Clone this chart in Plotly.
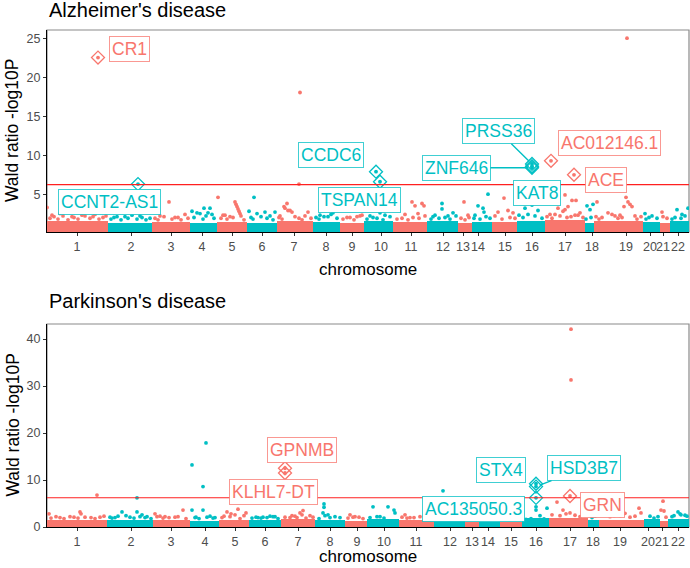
import numpy as np
import plotly.graph_objects as go

RED = "#F8766D"
TEAL = "#00BFC4"

chromosomes = [str(i) for i in range(1, 23)]

# ---------------- Alzheimer's disease ----------------
ad_bounds = [0, 61, 105, 143, 170, 200, 230, 266, 293, 317, 346, 380, 411, 425, 445, 470, 498, 538, 547, 596, 613, 623, 642]
ad_ticks = [30, 84, 124, 155, 185, 215, 247, 279, 305, 334, 364, 396, 416, 431, 458, 485, 518, 545, 579, 603, 616, 631]
ad_band = [1.5, 1.3, 1.4, 1.3, 1.4, 1.3, 1.5, 1.4, 1.3, 1.5, 1.4, 1.5, 1.3, 1.4, 1.4, 1.6, 1.7, 1.3, 1.5, 1.4, 1.3, 1.5]

ad_pos = [0, 5, 13, 25, 38, 48, 56, 70, 85, 95, 253, 252, 580,
          122, 113, 128, 138, 145, 150, 153, 157, 161, 165, 163,
          171, 188, 189, 190, 191, 192, 193, 194, 178, 183,
          207, 202, 210, 218, 223, 228,
          237, 238, 240, 241, 243, 245, 261, 233,
          273, 286, 281, 310, 315, 303, 323, 333, 338,
          365, 368, 375, 377, 358, 371, 395, 395, 406, 388, 401,
          417, 421, 441, 431, 436, 437, 428, 457, 451, 461, 466,
          478, 485, 491, 481,
          518, 529, 525, 521, 518, 511, 516, 508, 528, 533,
          540, 543, 546,
          550, 577, 579, 581, 583, 585, 561, 565, 573, 588,
          598, 605, 615, 630, 641, 635]
ad_logp = [3.3, 2.3, 2.5, 2.1, 2.2, 2.4, 2.0, 2.1, 2.3, 2.0, 18.1, 6.3, 25.1,
           4.0, 2.2, 2.0, 2.4, 2.8, 2.6, 2.5, 3.2, 2.6, 2.4, 3.2,
           4.6, 4.0, 3.7, 3.4, 3.1, 2.8, 2.5, 2.2, 2.3, 2.1,
           4.6, 2.8, 2.5, 2.7, 2.2, 2.7,
           3.4, 3.2, 3.8, 2.9, 2.9, 2.7, 2.7, 2.2,
           2.3, 2.6, 2.1, 2.1, 2.3, 2.0, 2.2, 2.6, 2.3,
           4.0, 3.5, 3.8, 3.5, 2.4, 2.5, 3.8, 3.1, 2.6, 2.3, 2.2,
           4.0, 2.3, 5.0, 3.5, 3.2, 2.7, 2.3, 4.5, 2.7, 2.9, 2.6,
           3.2, 3.6, 2.9, 2.4,
           4.9, 4.2, 4.2, 3.4, 3.0, 3.2, 2.8, 2.4, 2.3, 2.6,
           3.5, 3.0, 3.7,
           4.0, 3.4, 4.6, 4.0, 3.7, 3.4, 2.6, 2.4, 2.3, 2.2,
           2.5, 2.2, 2.7, 3.0, 3.2, 2.4]

# dense ridge of moderately significant genes along the top of the band
ad_ridge_pos = [3, 7, 11, 16, 21, 27, 31, 35, 43, 46, 52, 59, 64, 67, 74, 78, 81, 90, 93, 99, 103,
                108, 111, 117, 125, 131, 134, 141, 147, 156, 159, 167, 174, 176, 180, 186, 197,
                204, 206, 214, 220, 226, 232, 235, 248, 252, 255, 258, 264, 269, 272, 277, 284, 290,
                296, 300, 307, 313, 320, 326, 330, 336, 343, 350, 355, 361, 366, 372, 378,
                384, 386, 392, 398, 403, 409, 414, 418, 422, 427, 433, 439, 443, 448, 455, 463, 468,
                472, 476, 488, 495, 500, 503, 505, 513, 520, 524, 531, 536, 539, 544,
                549, 552, 555, 568, 571, 575, 590, 594, 599, 602, 610, 616, 620, 625, 628, 634, 638]
ad_ridge_logp = [1.9, 2.1, 1.8, 2.2, 1.7, 2.0, 1.8, 2.3, 1.9, 2.1, 1.8, 2.2, 1.8, 2.0, 1.7, 2.1, 1.9, 1.8, 2.2, 1.7, 1.9,
                 1.9, 1.7, 2.1, 1.8, 2.0, 1.7, 1.9, 2.0, 1.8, 2.2, 1.9, 1.9, 2.3, 1.8, 2.0, 1.7,
                 2.0, 1.8, 2.1, 1.9, 1.7, 2.0, 1.8, 2.1, 1.9, 1.7, 2.2, 1.9, 2.0, 1.8, 2.1, 2.4, 1.9,
                 1.8, 2.0, 1.7, 2.2, 1.8, 2.0, 1.9, 1.7, 2.1, 1.8, 1.9, 1.7, 2.0, 1.9, 2.2,
                 1.8, 2.1, 1.9, 2.0, 1.8, 2.2, 1.9, 1.7, 2.0, 1.9, 1.8, 2.1, 1.9, 2.2, 1.8, 2.0, 1.9,
                 2.3, 2.0, 2.2, 1.9, 2.1, 2.4, 1.9, 2.2, 2.0, 2.1, 2.3, 2.0, 1.8, 2.0,
                 2.1, 1.8, 2.0, 2.2, 1.9, 2.0, 1.8, 2.1, 1.8, 2.0, 1.9, 2.1, 1.9, 1.8, 2.0, 1.9, 2.2]

ad_genes = ["CR1", "CCNT2-AS1", "CCDC6", "TSPAN14", "PRSS36", "ZNF646", "KAT8", "AC012146.1", "ACE"]
ad_gene_pos = [51, 91, 329, 333, 485, 485, 485, 504, 527]
ad_gene_logp = [22.6, 6.3, 7.9, 6.6, 8.9, 8.4, 8.6, 9.3, 7.5]

# ---------------- Parkinson's disease ----------------
pd_bounds = [0, 60, 106, 143, 172, 202, 234, 268, 298, 320, 352, 387, 418, 432, 453, 475, 502, 541, 552, 597, 613, 621, 642]
pd_ticks = [30, 84, 124, 158, 188, 218, 251, 283, 310, 337, 369, 403, 425, 441, 464, 489, 523, 546, 573, 601, 615, 631]
pd_band = [1.4, 1.5, 1.4, 1.3, 1.5, 1.4, 1.6, 1.4, 1.3, 1.6, 1.4, 1.3, 1.1, 1.1, 1.1, 1.9, 1.9, 1.4, 1.5, 1.6, 1.3, 1.7]

pd_pos = [50, 90, 159, 145, 156, 396, 524, 524,
          2, 33, 34, 38, 13, 23, 53,
          75, 90, 83, 95, 65, 100, 71,
          108, 136, 128, 118, 113,
          145, 156, 149, 163, 168,
          180, 191, 184, 188, 199, 197, 177,
          216, 223, 211, 228,
          256, 253, 255, 248, 263, 243,
          277, 277, 276, 278, 283,
          312, 303, 308,
          326, 341, 347, 348, 333,
          358, 373, 363, 403, 393,
          489, 489, 493, 500,
          510, 516, 523, 528, 533, 548,
          592, 594, 563, 573, 583, 603,
          616, 614, 617, 631, 633, 638, 625]
pd_logp = [6.8, 6.2, 17.9, 13.2, 8.6, 7.7, 42.1, 31.3,
           2.8, 3.2, 2.8, 2.1, 2.0, 2.2, 2.1,
           3.2, 3.2, 2.1, 2.6, 1.9, 2.2, 2.3,
           2.8, 3.6, 2.1, 2.2, 2.3,
           3.6, 3.6, 2.1, 2.3, 2.0,
           3.2, 3.8, 2.8, 2.6, 3.0, 2.4, 2.3,
           2.1, 2.3, 2.0, 2.2,
           3.5, 3.0, 2.6, 2.3, 2.4, 2.0,
           4.9, 4.2, 3.0, 2.4, 2.0,
           2.1, 2.6, 2.2,
           4.3, 4.3, 3.6, 3.0, 2.2,
           2.6, 2.2, 2.0, 2.3, 2.1,
           4.3, 3.6, 2.4, 4.0,
           5.3, 3.6, 3.0, 2.5, 2.2, 2.3,
           4.0, 3.0, 2.2, 2.4, 2.1, 2.3,
           5.5, 3.6, 3.4, 3.2, 2.8, 2.5, 2.2]

pd_ridge_pos = [4, 9, 17, 27, 31, 44, 48, 57, 63, 68, 79, 87, 93, 98, 104,
                110, 116, 122, 131, 139, 148, 152, 160, 166, 175, 183, 193, 205, 209, 214, 220, 226, 231,
                238, 245, 250, 259, 266, 272, 281, 288, 293, 301, 306, 316, 323, 330, 337, 355, 360, 367,
                379, 384, 392, 399, 408, 413, 422, 428, 436, 446, 458, 466, 479, 484, 497,
                505, 513, 519, 537, 545, 557, 567, 578, 588, 607, 611, 619, 627, 634, 640]
pd_ridge_logp = [1.9, 2.2, 1.8, 2.1, 1.9, 2.0, 1.8, 2.3, 2.1, 2.0, 2.4, 1.9, 2.2, 2.0, 1.8,
                 2.2, 1.9, 2.0, 2.2, 1.8, 2.0, 1.8, 2.1, 1.9, 2.0, 2.2, 1.8, 1.9, 2.1, 1.9, 2.0, 2.2, 1.8,
                 2.1, 2.4, 2.0, 1.9, 2.1, 1.8, 2.6, 2.2, 2.0, 1.9, 2.1, 1.8, 2.0, 2.2, 1.9, 2.1, 1.9, 2.0,
                 2.4, 2.0, 2.2, 1.9, 1.8, 2.0, 1.7, 1.9, 2.0, 1.8, 1.7, 1.9, 1.6, 1.8, 1.7,
                 2.6, 2.4, 2.8, 2.5, 2.0, 2.7, 2.4, 2.9, 2.3, 1.9, 2.2, 2.1, 2.4, 2.6, 2.3]

pd_genes = ["GPNMB", "KLHL7-DT", "STX4", "HSD3B7", "AC135050.3", "GRN"]
pd_gene_pos = [238, 238, 489, 489, 489, 523]
pd_gene_logp = [12.5, 11.5, 9.2, 8.6, 6.2, 6.6]

threshold = 6.22

# label placement (layout, not data)
ad_label_xy = {"CR1": (82, 23.7), "CCNT2-AS1": (62, 4.0), "CCDC6": (284, 10.0),
               "TSPAN14": (312, 4.2), "PRSS36": (451.5, 13.1), "ZNF646": (409.5, 8.4),
               "KAT8": (490, 5.2), "AC012146.1": (562.5, 11.6), "ACE": (559, 6.8)}
pd_label_xy = {"GPNMB": (255, 16.3), "KLHL7-DT": (226.5, 7.55), "STX4": (453.5, 12.1),
               "HSD3B7": (536.5, 12.55), "AC135050.3": (426.5, 3.8), "GRN": (555.5, 4.7)}
with_segment = {"PRSS36", "ZNF646", "HSD3B7"}

FONT = "Liberation Sans, Arial, sans-serif"


def chrom_color(pos, bounds):
    idx = np.searchsorted(np.array(bounds), np.array(pos), side="right") - 1
    idx = np.clip(idx, 0, 21)
    return [RED if i % 2 == 0 else TEAL for i in idx]


fig = go.Figure()
annotations = []

panels = [
    ("x", "y", ad_bounds, ad_band, ad_pos + ad_ridge_pos, ad_logp + ad_ridge_logp,
     ad_genes, ad_gene_pos, ad_gene_logp, ad_label_xy),
    ("x2", "y2", pd_bounds, pd_band, pd_pos + pd_ridge_pos, pd_logp + pd_ridge_logp,
     pd_genes, pd_gene_pos, pd_gene_logp, pd_label_xy),
]

for xa, ya, bounds, band, pos, logp, genes, gpos, glogp, lab in panels:
    b = np.array(bounds, dtype=float)
    centers = (b[:-1] + b[1:]) / 2
    widths = b[1:] - b[:-1]
    fig.add_trace(go.Bar(x=centers, y=band, width=widths, base=0,
                         marker=dict(color=[RED if i % 2 == 0 else TEAL for i in range(22)], line_width=0),
                         xaxis=xa, yaxis=ya, showlegend=False, hoverinfo="skip"))
    fig.add_trace(go.Scatter(x=pos, y=logp, mode="markers",
                             marker=dict(size=3.8, color=chrom_color(pos, bounds), line_width=0),
                             xaxis=xa, yaxis=ya, showlegend=False))
    gcol = chrom_color(gpos, bounds)
    fig.add_trace(go.Scatter(x=gpos, y=glogp, mode="markers",
                             marker=dict(size=3.8, color=gcol, line_width=0),
                             xaxis=xa, yaxis=ya, showlegend=False))
    fig.add_trace(go.Scatter(x=gpos, y=glogp, mode="markers",
                             marker=dict(size=10, symbol="diamond-open", color=gcol, line=dict(width=1.3, color=gcol)),
                             xaxis=xa, yaxis=ya, showlegend=False))
    for g, px_, py_, c in zip(genes, gpos, glogp, gcol):
        lx, ly = lab[g]
        border = "rgba(248,118,109,0.75)" if c == RED else "rgba(0,191,196,0.75)"
        if g in with_segment:
            annotations.append(dict(x=px_, y=py_, xref=xa, yref=ya, ax=lx, ay=ly, axref=xa, ayref=ya,
                                    text=g, showarrow=True, arrowhead=0, arrowwidth=1.4, arrowcolor=c,
                                    standoff=4, font=dict(family=FONT, size=17.5, color=c),
                                    bgcolor="white", bordercolor=border, borderwidth=1, borderpad=2))
        else:
            annotations.append(dict(x=lx, y=ly, xref=xa, yref=ya, text=g, showarrow=False,
                                    font=dict(family=FONT, size=17.5, color=c),
                                    bgcolor="white", bordercolor=border, borderwidth=1, borderpad=2))

shapes = []
for xa, ya in [("x", "y"), ("x2", "y2")]:
    shapes.append(dict(type="line", xref=f"{xa} domain", yref=ya, x0=0, x1=1, y0=threshold, y1=threshold,
                       line=dict(color="#FF2020", width=1.2), layer="above"))
    shapes.append(dict(type="rect", xref=f"{xa} domain", yref=f"{ya} domain", x0=0, x1=1, y0=0, y1=1,
                       line=dict(color="#8A8A8A", width=1.2), fillcolor="rgba(0,0,0,0)", layer="below"))

TOP_DOM = [295 / 497, 1.0]
BOT_DOM = [0.0, 203 / 497]
for txt, y in [("Alzheimer's disease", 517 / 497), ("Parkinson's disease", 226 / 497)]:
    annotations.append(dict(text=txt, xref="paper", yref="paper", x=0, y=y, xanchor="left", yanchor="middle",
                            showarrow=False, font=dict(family=FONT, size=20, color="black")))
annotations.append(dict(text="chromosome", xref="paper", yref="paper", x=0.5, y=258 / 497, xanchor="center",
                        yanchor="middle", showarrow=False, font=dict(family=FONT, size=17, color="black")))
annotations.append(dict(text="chromosome", xref="paper", yref="paper", x=0.5, y=-41 / 497, xanchor="center",
                        yanchor="bottom", showarrow=False, font=dict(family=FONT, size=17, color="black")))
for y in [396 / 497, 101.5 / 497]:
    annotations.append(dict(text="Wald ratio -log10P", xref="paper", yref="paper", x=(12 - 47) / 642, y=y,
                            xanchor="center", yanchor="middle", textangle=-90, showarrow=False,
                            font=dict(family=FONT, size=17.5, color="black")))

axis_common = dict(showgrid=False, zeroline=False, showline=True, linecolor="black", linewidth=1.2,
                   ticks="outside", ticklen=3, tickcolor="#333333", tickwidth=1, automargin=False,
                   tickfont=dict(family=FONT, size=12.5, color="#4D4D4D"))

fig.update_layout(
    width=690, height=568,
    margin=dict(l=47, r=1, t=30, b=41),
    plot_bgcolor="white", paper_bgcolor="white",
    bargap=0,
    xaxis=dict(domain=[0, 1], anchor="y", range=[0, 642], tickvals=ad_ticks, ticktext=chromosomes,
               tickangle=0, **axis_common),
    yaxis=dict(domain=TOP_DOM, anchor="x", range=[0.13, 26.15], tickvals=[5, 10, 15, 20, 25], **axis_common),
    xaxis2=dict(domain=[0, 1], anchor="y2", range=[0, 642], tickvals=pd_ticks, ticktext=chromosomes,
                tickangle=0, **axis_common),
    yaxis2=dict(domain=BOT_DOM, anchor="x2", range=[0, 43.2], tickvals=[0, 10, 20, 30, 40], **axis_common),
    annotations=annotations,
    shapes=shapes,
    showlegend=False,
)

fig.write_html("out.html", config={"displayModeBar": False},
               post_script="document.body.style.margin='0';document.body.style.overflow='hidden';")
